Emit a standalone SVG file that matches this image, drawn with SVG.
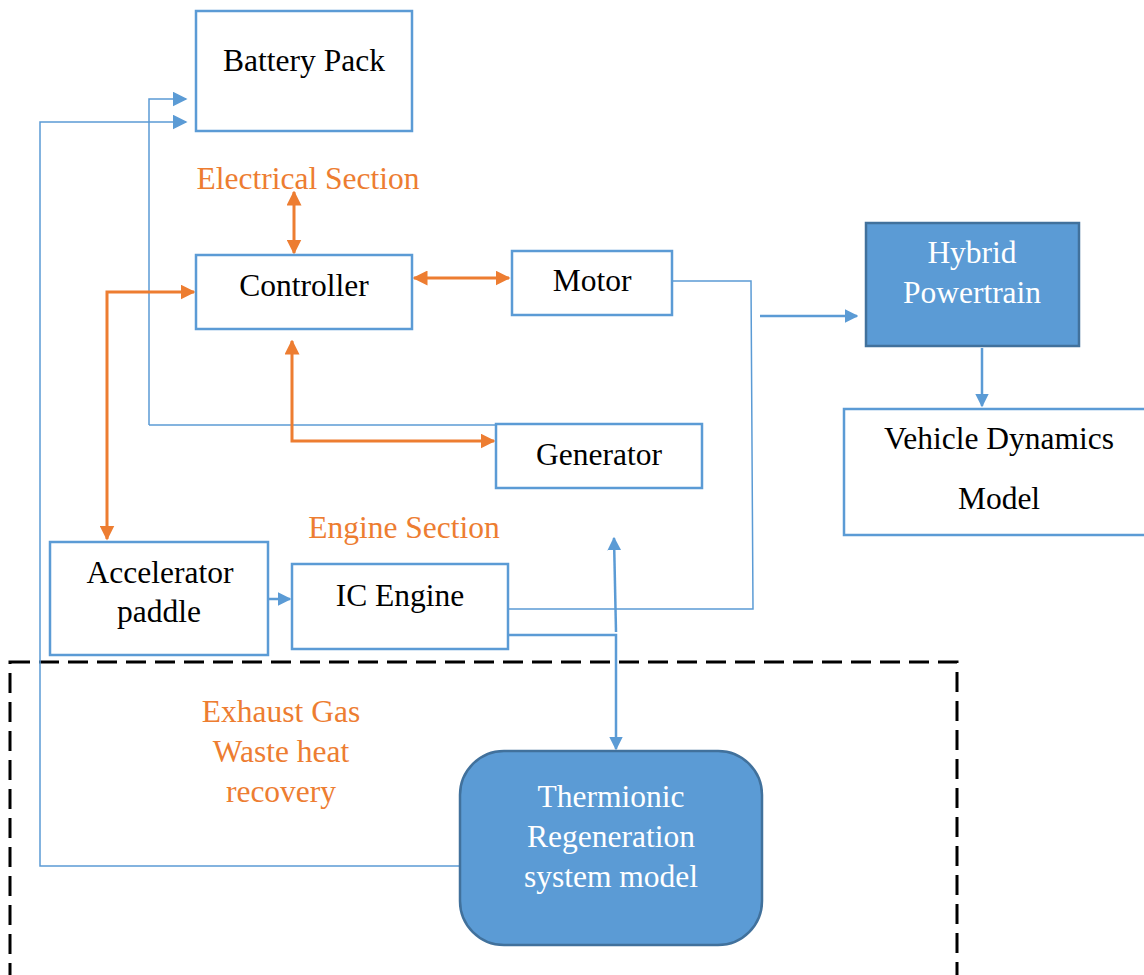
<svg xmlns="http://www.w3.org/2000/svg" width="1144" height="975" viewBox="0 0 1144 975">
<style>
.box{fill:#fff;stroke:#5B9BD5;stroke-width:2.5}
.dark{fill:#5B9BD5;stroke:#41719C;stroke-width:2.5}
.t{font-family:"Liberation Serif","Times New Roman",serif;font-size:31.5px;fill:#000;text-anchor:middle}
.w{fill:#fff}
.o{fill:#ED7D31}
.ol{fill:none;stroke:#ED7D31;stroke-width:3}
.bl{fill:none;stroke:#5B9BD5;stroke-width:2.5}
.thin{fill:none;stroke:#5B9BD5;stroke-width:1.5}
</style>
<defs>
<marker id="ao" viewBox="0 0 10 10" refX="9" refY="5" markerWidth="5" markerHeight="5" markerUnits="strokeWidth" orient="auto-start-reverse"><path d="M0,0 L10,5 L0,10 z" fill="#ED7D31"/></marker>
<marker id="ab" viewBox="0 0 10 10" refX="9" refY="5" markerWidth="5.5" markerHeight="5.5" markerUnits="strokeWidth" orient="auto-start-reverse"><path d="M0,0 L10,5 L0,10 z" fill="#5B9BD5"/></marker>
<marker id="abt" viewBox="0 0 10 10" refX="9" refY="5" markerWidth="10" markerHeight="10" markerUnits="strokeWidth" orient="auto-start-reverse"><path d="M0,0 L10,5 L0,10 z" fill="#5B9BD5"/></marker>
</defs>

<rect x="10" y="662" width="947" height="330" fill="none" stroke="#000" stroke-width="3" stroke-dasharray="20,9"/>

<g id="connectors">
<path class="thin" d="M149,425 L149,99 L186,99" marker-end="url(#abt)"/>
<path class="thin" d="M149,425 L497,425"/>
<path class="thin" d="M460,866 L40,866 L40,122 L186,122" marker-end="url(#abt)"/>
<path class="ol" d="M294,192 L294,253" marker-start="url(#ao)" marker-end="url(#ao)"/>
<path class="ol" d="M414,278 L509,278" marker-start="url(#ao)" marker-end="url(#ao)"/>
<path class="ol" d="M107,539 L107,292 L194,292" marker-start="url(#ao)" marker-end="url(#ao)"/>
<path class="ol" d="M292,341 L292,441 L494,441" marker-start="url(#ao)" marker-end="url(#ao)"/>
<path class="thin" d="M670,281 L751,281 L753,609 L509,609"/>
<path class="bl" d="M760,316 L857,316" marker-end="url(#ab)"/>
<path class="bl" d="M982,348 L982,406" marker-end="url(#ab)"/>
<path class="bl" d="M268,599 L290,599" marker-end="url(#ab)"/>
<path class="bl" d="M616,632 L614,538" marker-end="url(#ab)"/>
<path class="bl" d="M509,635 L616,635 L616,749" marker-end="url(#ab)"/>
</g>

<g id="battery"><rect class="box" x="196" y="11" width="216" height="120"/><text class="t" x="304" y="71">Battery Pack</text></g>
<g id="electrical-label"><text class="t o" x="308" y="189">Electrical Section</text></g>
<g id="controller"><rect class="box" x="196" y="255" width="216" height="74"/><text class="t" x="304" y="296">Controller</text></g>
<g id="motor"><rect class="box" x="512" y="251" width="160" height="64"/><text class="t" x="592" y="291">Motor</text></g>
<g id="generator"><rect class="box" x="496" y="424" width="206" height="64"/><text class="t" x="599" y="465">Generator</text></g>
<g id="hybrid"><rect class="dark" x="866" y="223" width="213" height="123"/><text class="t w" x="972" y="263">Hybrid</text><text class="t w" x="972" y="303">Powertrain</text></g>
<g id="vehicle"><rect class="box" x="844" y="409" width="310" height="126"/><text class="t" x="999" y="449">Vehicle Dynamics</text><text class="t" x="999" y="509">Model</text></g>
<g id="engine-label"><text class="t o" x="404" y="538">Engine Section</text></g>
<g id="accelerator"><rect class="box" x="50" y="542" width="218" height="113"/><text class="t" x="160" y="583">Accelerator</text><text class="t" x="159" y="622">paddle</text></g>
<g id="icengine"><rect class="box" x="292" y="564" width="216" height="85"/><text class="t" x="400" y="606">IC Engine</text></g>
<g id="exhaust-label"><text class="t o" x="281" y="722">Exhaust Gas</text><text class="t o" x="281" y="762">Waste heat</text><text class="t o" x="281" y="802">recovery</text></g>
<g id="thermionic"><rect class="dark" x="460" y="751" width="302" height="194" rx="44" ry="44"/><text class="t w" x="611" y="807">Thermionic</text><text class="t w" x="611" y="847">Regeneration</text><text class="t w" x="611" y="887">system model</text></g>
</svg>
